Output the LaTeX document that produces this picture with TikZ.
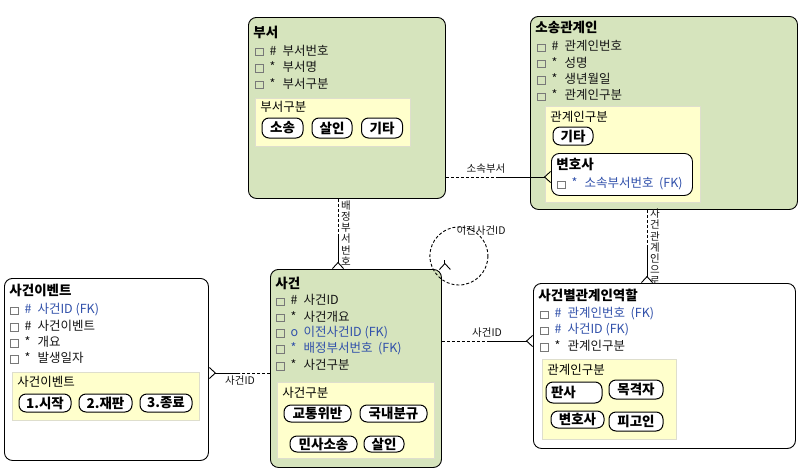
\documentclass[tikz,border=0pt]{standalone}
\usepackage{fontspec}
\setmainfont{Noto Sans CJK KR}
\usetikzlibrary{arrows.meta,positioning,calc}
\definecolor{entgreen}{RGB}{214,228,189}
\definecolor{subyellow}{RGB}{255,255,204}
\definecolor{subline}{RGB}{222,222,205}
\definecolor{fkblue}{RGB}{48,80,170}
\definecolor{attdark}{RGB}{20,20,20}
\definecolor{chkgray}{RGB}{120,120,120}
\newcommand\chk{{\color{chkgray}\setlength{\fboxsep}{0pt}\setlength{\fboxrule}{0.8pt}\fbox{\rule{0pt}{6.5pt}\rule{6.5pt}{0pt}}}}
\newcommand\att[2]{\chk\hspace{6pt}\makebox[13pt][l]{#1}#2}
\newcommand\fkatt[2]{\chk\hspace{6pt}{\color{fkblue}\makebox[13pt][l]{#1}#2}}
\tikzset{
  entity/.style={draw,line width=0.9pt,rounded corners=8pt,anchor=north west,inner sep=0pt},
  enttitle/.style={anchor=west,inner sep=0pt,font=\fontsize{13.5}{15}\selectfont\bfseries},
  attrow/.style={anchor=west,inner sep=0pt,font=\fontsize{12.5}{14}\selectfont,text=attdark},
  subbox/.style={draw=subline,fill=subyellow,line width=0.8pt,anchor=north west,inner sep=0pt},
  sublabel/.style={anchor=west,inner sep=0pt,font=\fontsize{12.5}{14}\selectfont},
  pill/.style={draw,fill=white,line width=1pt,rounded corners=7pt,inner sep=0pt,font=\fontsize{13.5}{15}\selectfont\bfseries},
  rellabel/.style={inner sep=0pt,font=\fontsize{10.5}{12}\selectfont,text=attdark},
  vlabel/.style={rellabel,align=center,font=\fontsize{10.5}{11.2}\selectfont},
  reldash/.style={dash pattern=on 3pt off 2pt},
}

\begin{document}
\begin{tikzpicture}[x=1pt,y=-1pt,line width=0.9pt,>={Straight Barb[reversed,length=6pt,width=11pt]}]
  \useasboundingbox (0,0) rectangle (801,469);

  % 부서
  \node[entity,fill=entgreen,minimum width=197pt,minimum height=181pt] (busu) at (248,17) {};
  \node[enttitle] (busu-t) at ($(busu.north west)+(5,15)$) {부서};
  \foreach \txt [count=\i] in {{\att{\#}{부서번호}},{\att{*}{부서명}},{\att{*}{부서구분}}}
    \node[attrow] (busu-a\i) at ($(busu.north west)+(7,17+16.5*\i)$) {\txt};
  \node[subbox,minimum width=155pt,minimum height=48pt] (busu-s) at (255,98) {};
  \node[sublabel] (busu-sl) at ($(busu-s.north west)+(5,9)$) {부서구분};
  \node[pill,minimum width=41pt,minimum height=20pt] (busu-p1) at (282.5,128) {소송};
  \node[pill,minimum width=40pt,minimum height=20pt] (busu-p2) at (332,128) {살인};
  \node[pill,minimum width=41pt,minimum height=20pt] (busu-p3) at (382,128) {기타};

  % 소송관계인
  \node[entity,fill=entgreen,minimum width=267pt,minimum height=193pt] (sosong) at (530,16) {};
  \node[enttitle] (sosong-t) at ($(sosong.north west)+(5,11)$) {소송관계인};
  \foreach \txt [count=\i] in {{\att{\#}{관계인번호}},{\att{*}{성명}},{\att{*}{생년월일}},{\att{*}{관계인구분}}}
    \node[attrow] (sosong-a\i) at ($(sosong.north west)+(7,14+16.3*\i)$) {\txt};
  \node[subbox,minimum width=155pt,minimum height=96pt] (sosong-s) at (545,106) {};
  \node[sublabel] (sosong-sl) at ($(sosong-s.north west)+(5,11)$) {관계인구분};
  \node[pill,minimum width=40pt,minimum height=18pt] (sosong-p1) at (573,136) {기타};
  \node[entity,fill=white,minimum width=141pt,minimum height=42pt] (bhs) at (551,153) {};
  \node[enttitle] (bhs-t) at ($(bhs.north west)+(5,11)$) {변호사};
  \node[attrow] (bhs-a1) at ($(bhs.north west)+(6,31)$) {\fkatt{*}{소속부서번호\ \ (FK)}};

  % 사건
  \node[entity,fill=entgreen,minimum width=171pt,minimum height=198pt] (sagun) at (270,269) {};
  \node[enttitle] (sagun-t) at ($(sagun.north west)+(5,14)$) {사건};
  \foreach \txt [count=\i] in {{\att{\#}{사건ID}},{\att{*}{사건개요}},{\fkatt{o}{이전사건ID (FK)}},{\fkatt{*}{배정부서번호\ \ (FK)}},{\att{*}{사건구분}}}
    \node[attrow] (sagun-a\i) at ($(sagun.north west)+(6,15+16.2*\i)$) {\txt};
  \node[subbox,minimum width=157pt,minimum height=76pt] (sagun-s) at (277,382) {};
  \node[sublabel] (sagun-sl) at ($(sagun-s.north west)+(5,11)$) {사건구분};
  \node[pill,minimum width=67pt,minimum height=17pt] (sagun-p1) at (317.5,413.5) {교통위반};
  \node[pill,minimum width=67pt,minimum height=17pt] (sagun-p2) at (393.5,413.5) {국내분규};
  \node[pill,minimum width=67pt,minimum height=16pt] (sagun-p3) at (323.5,444) {민사소송};
  \node[pill,minimum width=40pt,minimum height=16pt] (sagun-p4) at (384,444) {살인};

  % 사건이벤트
  \node[entity,fill=white,minimum width=204pt,minimum height=182pt] (event) at (4,278) {};
  \node[enttitle] (event-t) at ($(event.north west)+(5,12)$) {사건이벤트};
  \foreach \txt [count=\i] in {{\fkatt{\#}{사건ID (FK)}},{\att{\#}{사건이벤트}},{\att{*}{개요}},{\att{*}{발생일자}}}
    \node[attrow] (event-a\i) at ($(event.north west)+(6,16+16*\i)$) {\txt};
  \node[subbox,minimum width=187pt,minimum height=48pt] (event-s) at (12,372) {};
  \node[sublabel] (event-sl) at ($(event-s.north west)+(5,10)$) {사건이벤트};
  \node[pill,minimum width=52pt,minimum height=18pt] (event-p1) at (45,403) {1.시작};
  \node[pill,minimum width=53pt,minimum height=18pt] (event-p2) at (105.5,403) {2.재판};
  \node[pill,minimum width=52pt,minimum height=18pt] (event-p3) at (166,403) {3.종료};

  % 사건별관계인역할
  \node[entity,fill=white,minimum width=262pt,minimum height=165pt] (role) at (533,283) {};
  \node[enttitle] (role-t) at ($(role.north west)+(5,12)$) {사건별관계인역할};
  \foreach \txt [count=\i] in {{\fkatt{\#}{관계인번호\ \ (FK)}},{\fkatt{\#}{사건ID (FK)}},{\att{*}{관계인구분}}}
    \node[attrow] (role-a\i) at ($(role.north west)+(7,15+16*\i)$) {\txt};
  \node[subbox,minimum width=134pt,minimum height=80pt] (role-s) at (542,359) {};
  \node[sublabel] (role-sl) at ($(role-s.north west)+(5,11)$) {관계인구분};
  \node[pill,minimum width=56pt,minimum height=21pt,text width=46pt,align=left] (role-p1) at (574,392.5) {판사};
  \node[pill,minimum width=54pt,minimum height=19pt] (role-p2) at (636,389.5) {목격자};
  \node[pill,minimum width=53pt,minimum height=17pt] (role-p3) at (577.5,419.5) {변호사};
  \node[pill,minimum width=54pt,minimum height=19pt] (role-p4) at (636,421.5) {피고인};

  % 관계선
  \coordinate (sosok) at (497,177);
  \draw[reldash] (busu.east |- sosok) -- (sosok);
  \draw[->] (sosok) -- (sosok -| bhs.west);
  \node[rellabel] (sosok-l) at (486,169) {소속부서};

  \coordinate (baejung) at (338,234);
  \draw[reldash] (baejung |- busu.south) -- (baejung);
  \draw[->] (baejung) -- (baejung |- sagun.north);
  \node[vlabel] (baejung-l) at (346,233) {배\\정\\부\\서\\번\\호};

  \coordinate (gwangye) at (647,246);
  \draw[reldash] (gwangye |- sosong.south) -- (gwangye);
  \draw[->] (gwangye) -- (gwangye |- role.north);
  \node[vlabel] (gwangye-l) at (655,247) {사\\건\\관\\계\\인\\으\\로};

  \coordinate (sagunid) at (487,341);
  \draw[reldash] (sagun.east |- sagunid) -- (sagunid);
  \draw[->] (sagunid) -- (sagunid -| role.west);
  \node[rellabel] (sagunid-l) at (487,333) {사건ID};

  \coordinate (eventid) at (240,373);
  \draw[reldash] (sagun.west |- eventid) -- (eventid);
  \draw[->] (eventid) -- (eventid -| event.east);
  \node[rellabel] (eventid-l) at (240,381) {사건ID};

  \draw[reldash] ($(sagun.north east)+(17,-13)$) circle (29);
  \draw[->] ($(sagun.north east)+(3,-9)$) -- ($(sagun.north east)+(3,1)$);
  \node[rellabel] (ijeon-l) at (481,231) {이전사건ID};
\end{tikzpicture}
\end{document}
